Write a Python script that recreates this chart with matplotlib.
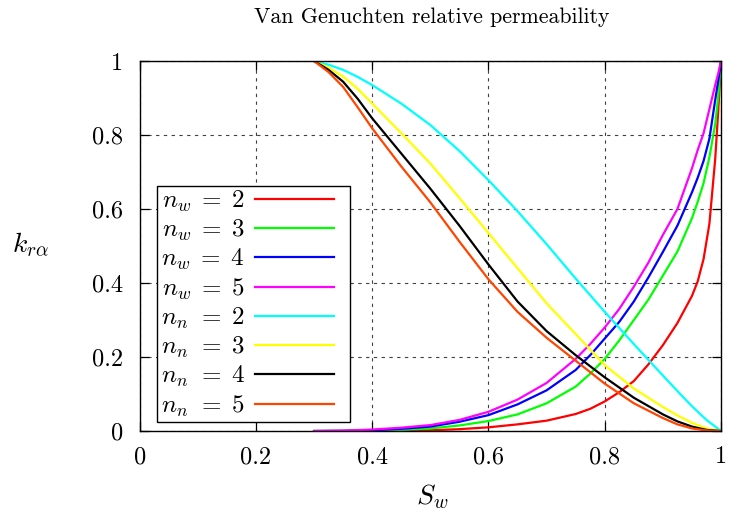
import matplotlib
matplotlib.use("Agg")
import matplotlib.pyplot as plt
from matplotlib.patches import Rectangle

plt.rcParams.update({
    "font.family": "cmr10",
    "mathtext.fontset": "cm",
    "axes.formatter.use_mathtext": True,
})

# wetting phase curves
sw_w = [0.30, 0.35, 0.40, 0.45, 0.50, 0.55, 0.60, 0.65, 0.70, 0.75, 0.775,
        0.80, 0.825, 0.85, 0.875, 0.90, 0.925, 0.95, 0.96, 0.97, 0.98, 0.99,
        0.995, 1.00]
krw_2 = [0, 0, 0.0005, 0.001, 0.002, 0.005, 0.01, 0.018, 0.028, 0.046, 0.06,
         0.08, 0.105, 0.135, 0.18, 0.232, 0.292, 0.365, 0.405, 0.465, 0.56, 0.735,
         0.86, 1.0]
krw_3 = [0, 0.0002, 0.001, 0.003, 0.007, 0.015, 0.027, 0.045, 0.075, 0.12, 0.155,
         0.195, 0.245, 0.30, 0.355, 0.42, 0.485, 0.575, 0.62, 0.67, 0.74, 0.83,
         0.9, 1.0]
krw_4 = [0, 0.0005, 0.002, 0.006, 0.012, 0.025, 0.043, 0.072, 0.11, 0.165, 0.205,
         0.25, 0.295, 0.35, 0.415, 0.484, 0.555, 0.645, 0.685, 0.73, 0.79, 0.895,
         0.945, 1.0]
krw_5 = [0, 0.001, 0.004, 0.009, 0.016, 0.03, 0.052, 0.085, 0.13, 0.195, 0.235,
         0.28, 0.33, 0.39, 0.455, 0.53, 0.6, 0.71, 0.76, 0.805, 0.87, 0.935,
         0.965, 1.0]

# non-wetting phase curves
sw_n = [0.30, 0.325, 0.35, 0.375, 0.40, 0.45, 0.50, 0.55, 0.60, 0.65, 0.70,
        0.75, 0.80, 0.85, 0.90, 0.925, 0.95, 0.975, 1.00]
krn_2 = [1.0, 0.99, 0.976, 0.957, 0.935, 0.885, 0.827, 0.757, 0.678, 0.594, 0.505,
         0.412, 0.322, 0.235, 0.15, 0.108, 0.067, 0.03, 0.0]
krn_3 = [1.0, 0.982, 0.958, 0.925, 0.885, 0.805, 0.723, 0.63, 0.535, 0.44, 0.345,
         0.262, 0.178, 0.115, 0.065, 0.042, 0.022, 0.007, 0.0]
krn_4 = [1.0, 0.976, 0.944, 0.898, 0.845, 0.75, 0.655, 0.555, 0.45, 0.35, 0.27,
         0.205, 0.145, 0.09, 0.045, 0.026, 0.012, 0.003, 0.0]
krn_5 = [1.0, 0.97, 0.93, 0.875, 0.818, 0.715, 0.618, 0.512, 0.41, 0.322, 0.252,
         0.19, 0.128, 0.075, 0.035, 0.018, 0.007, 0.0015, 0.0]

ticks = [0, 0.2, 0.4, 0.6, 0.8, 1]
tick_labels = ["0", "0.2", "0.4", "0.6", "0.8", "1"]

fig = plt.figure(figsize=(7.32, 5.21), dpi=100)
ax = fig.add_axes([0.1908, 0.1727, 0.7942, 0.7102])

lw = 1.6
ax.plot(sw_w, krw_2, color="#ff0000", lw=lw, label=r"$n_w\;=\;2$")
ax.plot(sw_w, krw_3, color="#00ff00", lw=lw, label=r"$n_w\;=\;3$")
ax.plot(sw_w, krw_4, color="#0000ff", lw=lw, label=r"$n_w\;=\;4$")
ax.plot(sw_w, krw_5, color="#ff00ff", lw=lw, label=r"$n_w\;=\;5$")
# a little extra space so the n_n labels start where the n_w labels start
ax.plot(sw_n, krn_2, color="#00ffff", lw=lw, label=r"$n_n\hspace{0.13}\;=\;2$")
ax.plot(sw_n, krn_3, color="#ffff00", lw=lw, label=r"$n_n\hspace{0.13}\;=\;3$")
ax.plot(sw_n, krn_4, color="#000000", lw=lw, label=r"$n_n\hspace{0.13}\;=\;4$")
ax.plot(sw_n, krn_5, color="#ff4500", lw=lw, label=r"$n_n\hspace{0.13}\;=\;5$")

ax.set_xlim(0, 1)
ax.set_ylim(0, 1)
ax.set_xticks(ticks)
ax.set_xticklabels(tick_labels)
ax.set_yticks(ticks)
ax.set_yticklabels(tick_labels)
ax.tick_params(direction="in", top=True, right=True, length=6.5, width=0.9,
               labelsize=17.5)
ax.tick_params(axis="x", pad=11)
ax.tick_params(axis="y", pad=12)
ax.grid(True, color="0.25", linestyle=(0, (3, 4)), linewidth=0.8)
for s in ax.spines.values():
    s.set_linewidth(1.0)

# legend box (gnuplot style: text first, sample line after)
ax.add_patch(Rectangle((0.0303, 0.0251), 0.3315, 0.6379, transform=ax.transAxes,
                       facecolor="white", edgecolor="black", lw=1.0, zorder=4))
leg = ax.legend(loc="upper left", bbox_to_anchor=(0.036, 0.655), markerfirst=False,
                fontsize=18, handlelength=3.15, labelspacing=0.16,
                frameon=False, borderpad=0, handletextpad=0.4, borderaxespad=0)
leg.set_zorder(5)

fig.text(0.590, 1 - 17 / 521, "Van Genuchten relative permeability",
         ha="center", va="center", fontsize=15.75)
fig.text(0.590, 1 - 497 / 521, r"$S_w$", ha="center", va="center", fontsize=20)
fig.text(30 / 732, 1 - 245 / 521, r"$k_{r\alpha}$", ha="center", va="center",
         fontsize=20)

fig.savefig("out.png", dpi=100)
